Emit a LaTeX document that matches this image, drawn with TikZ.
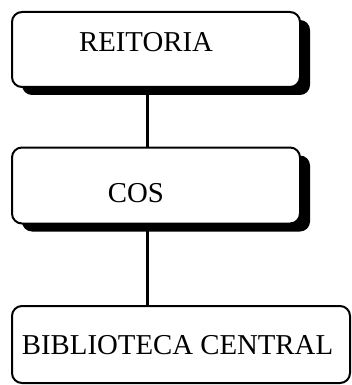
\documentclass[tikz,border=0pt]{standalone}
\usepackage{fontspec}
\setmainfont{Liberation Serif}
\usetikzlibrary{shadows,calc}
\begin{document}
\begin{tikzpicture}[x=1pt,y=1pt,
  box/.style={draw=black, line width=2pt, fill=white, rounded corners=10pt, inner sep=0pt},
  shbox/.style={box, drop shadow={shadow xshift=10pt, shadow yshift=-8pt, fill=black, opacity=1}},
  lbl/.style={anchor=base, inner sep=0pt, font=\fontsize{28.8}{34}\selectfont},
  conn/.style={line width=2.2pt}]
\useasboundingbox (0,0) rectangle (352,-385);
\node[shbox, minimum width=288pt, minimum height=75pt] (b1) at (156,-49.5) {};
\node[shbox, minimum width=288pt, minimum height=76pt] (b2) at (156,-185.5) {};
\node[box, minimum width=338pt, minimum height=77pt] (b3) at (181,-344.5) {};
\node[lbl] (t1) at (146,-51.5) {REITORIA};
\node[lbl] (t2) at (136,-202) {COS};
\node[lbl] (t3) at (177.5,-354) {BIBLIOTECA CENTRAL};
\draw[conn] (147.5,0 |- b1.south) -- (147.5,0 |- b2.north);
\draw[conn] (147.5,0 |- b2.south) -- (147.5,0 |- b3.north);
\end{tikzpicture}
\end{document}
